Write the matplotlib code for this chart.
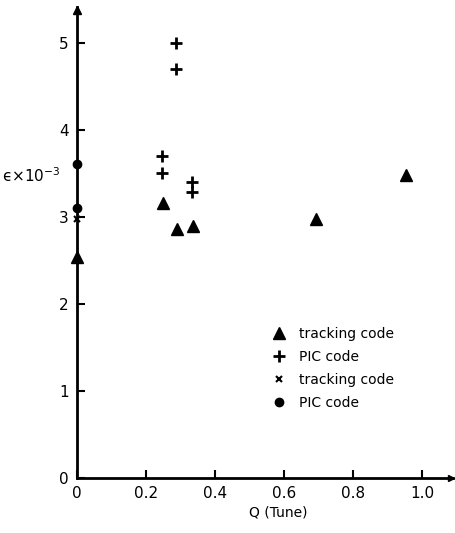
import matplotlib
matplotlib.use("Agg")
import matplotlib.pyplot as plt

# Data
tri_q = [0.0, 0.25, 0.29, 0.336, 0.693, 0.954]
tri_e = [2.54, 3.16, 2.86, 2.90, 2.97, 3.48]

plus_q = [0.287, 0.287, 0.246, 0.246, 0.333, 0.333]
plus_e = [5.00, 4.70, 3.70, 3.50, 3.40, 3.29]

x_q = [0.0]
x_e = [2.97]

dot_q = [0.0, 0.0]
dot_e = [3.61, 3.10]

xticks = [0.0, 0.2, 0.4, 0.6, 0.8, 1.0]
xticklabels = ["0", "0.2", "0.4", "0.6", "0.8", "1.0"]
yticks = [0, 1, 2, 3, 4, 5]
yticklabels = ["0", "1", "2", "3", "4", "5"]

plt.rcParams['font.family'] = ['DejaVu Sans']

W, H = 456, 533
fig = plt.figure(figsize=(W / 100, H / 100), dpi=100)
x0, x1, y0, y1 = 77, 453, 478, 7
ax = fig.add_axes([x0 / W, 1 - y0 / H, (x1 - x0) / W, (y0 - y1) / H])
ax.set_xlim(0, 1.09)
ax.set_ylim(0, 5.41)

for s in ['top', 'right']:
    ax.spines[s].set_visible(False)
for s in ['left', 'bottom']:
    ax.spines[s].set_linewidth(2)
    ax.spines[s].set_color('black')

# arrow heads
ax.plot([0], [5.38], marker='^', color='black', ms=6, clip_on=False)
ax.plot([1.085], [0], marker='>', color='black', ms=5, clip_on=False)

ax.set_xticks(xticks)
ax.set_xticklabels(xticklabels)
ax.set_yticks(yticks)
ax.set_yticklabels(yticklabels)
ax.tick_params(direction='in', length=6, width=1.5, labelsize=11, pad=6)

ax.plot(tri_q, tri_e, linestyle='none', marker='^', ms=8.5, color='black',
        clip_on=False, label='tracking code')
ax.plot(plus_q, plus_e, linestyle='none', marker='+', ms=8, mew=2, color='black',
        clip_on=False, label='PIC code')
ax.plot(x_q, x_e, linestyle='none', marker='x', ms=5, mew=1.5, color='black',
        clip_on=False, label='tracking code')
ax.plot(dot_q, dot_e, linestyle='none', marker='o', ms=6, color='black',
        clip_on=False, label='PIC code')

leg = ax.legend(loc='upper left', bbox_to_anchor=((262 - x0) / (x1 - x0), (y0 - 317) / (y0 - y1)),
                frameon=False, fontsize=10, handlelength=1.0, handletextpad=1.0,
                labelspacing=0.65, borderpad=0.2)

fig.text(2 / W, 1 - 176 / H, 'ϵ×10$^{-3}$', fontsize=11, va='center', ha='left')
fig.text(278 / W, 1 - 512 / H, 'Q (Tune)', fontsize=10, va='center', ha='center')

fig.savefig('out.png', dpi=100)
